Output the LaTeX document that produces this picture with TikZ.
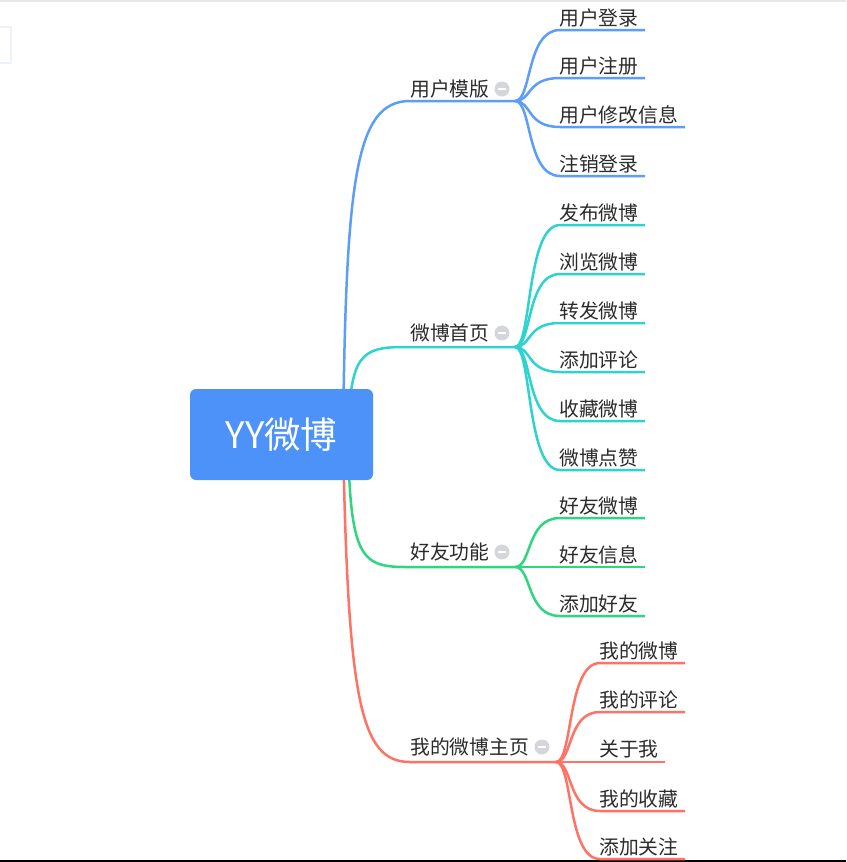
\documentclass[tikz,border=0pt]{standalone}
\usepackage{fontspec}
\setmainfont{Noto Sans CJK SC}
\definecolor{rootblue}{HTML}{4D92F8}
\definecolor{cblue}{HTML}{5B9DF9}
\definecolor{ccyan}{HTML}{2DD3CF}
\definecolor{cgreen}{HTML}{2ED67E}
\definecolor{cred}{HTML}{FF7366}
\definecolor{txt}{HTML}{2B2B2B}
\definecolor{foldgrey}{HTML}{D5D6DB}
\definecolor{topgrey}{HTML}{E8E8E8}
\definecolor{shadowblue}{HTML}{EEF1FB}
\begin{document}
\begin{tikzpicture}[x=1pt,y=-1pt,
  lbl/.style={font=\fontsize{19.8}{20}\selectfont, text=txt, inner sep=0pt, anchor=west},
  edge/.style={line width=2.5pt},
  fold/.style={circle, fill=foldgrey, minimum size=15pt, inner sep=0pt,
    path picture={\fill[white] ([xshift=-4pt,yshift=-1.2pt]path picture bounding box.center) rectangle ([xshift=4pt,yshift=1.2pt]path picture bounding box.center);}},
  rootbox/.style={rectangle, rounded corners=6pt, fill=rootblue, text=white,
    minimum width=183pt, minimum height=91pt, inner sep=0pt,
    font=\fontsize{36.5}{37}\selectfont}]
\useasboundingbox (0,0) rectangle (846,862);
\fill[white] (0,0) rectangle (846,862);
\draw[topgrey, line width=1.5pt] (0,1) -- (846,1);
\draw[black, line width=1.5pt] (0,861) -- (846,861);
% faint side panel
\fill[shadowblue] (0,26) rectangle (12,64);
\fill[white] (0,28) rectangle (10,62);

% ---- branch 1 : 用户模版
\coordinate (oB) at (343,437);
\coordinate (pB) at (410,101);
\coordinate (jB) at (515,101);
\draw[edge, cblue] (oB) .. controls (346,180) and (355,101) .. (pB) -- (jB);
\foreach \i/\y/\xe/\t in {1/30/645/用户登录, 2/78/645/用户注册, 3/127/685/用户修改信息, 4/176/645/注销登录} {
  \coordinate (b\i s) at (560,\y);
  \coordinate (b\i e) at (\xe,\y);
  \draw[edge, cblue] (jB) .. controls (532,101) and (526,\y) .. (b\i s) -- (b\i e);
  \node[lbl] (b\i) at (559,\y-12.5) {\t};
}
\node[lbl] (m1) at (410,88.5) {用户模版};
\node[fold] (f1) at (502,89) {};

% ---- branch 2 : 微博首页
\coordinate (oC) at (348,437);
\coordinate (pC) at (405,347);
\coordinate (jC) at (515,347);
\draw[edge, ccyan] (oC) .. controls (350,355) and (360,347) .. (pC) -- (jC);
\foreach \i/\y/\t in {1/225/发布微博, 2/274/浏览微博, 3/323/转发微博, 4/372/添加评论, 5/421/收藏微博, 6/470/微博点赞} {
  \coordinate (c\i s) at (560,\y);
  \coordinate (c\i e) at (645,\y);
  \draw[edge, ccyan] (jC) .. controls (532,347) and (526,\y) .. (c\i s) -- (c\i e);
  \node[lbl] (c\i) at (559,\y-12.5) {\t};
}
\node[lbl] (m2) at (410,332.5) {微博首页};
\node[fold] (f2) at (502,333) {};

% ---- branch 3 : 好友功能
\coordinate (oG) at (348,437);
\coordinate (pG) at (405,567);
\coordinate (jG) at (515,567);
\draw[edge, cgreen] (oG) .. controls (350,555) and (360,567) .. (pG) -- (jG);
\foreach \i/\y/\t in {1/518/好友微博, 2/567/好友信息, 3/616/添加好友} {
  \coordinate (g\i s) at (560,\y);
  \coordinate (g\i e) at (645,\y);
  \draw[edge, cgreen] (jG) .. controls (532,567) and (526,\y) .. (g\i s) -- (g\i e);
  \node[lbl] (g\i) at (559,\y-12.5) {\t};
}
\node[lbl] (m3) at (410,552) {好友功能};
\node[fold] (f3) at (502,552) {};

% ---- branch 4 : 我的微博主页
\coordinate (oR) at (343,437);
\coordinate (pR) at (410,762);
\coordinate (jR) at (556,762);
\draw[edge, cred] (oR) .. controls (348,700) and (360,762) .. (pR) -- (jR);
\foreach \i/\y/\xe/\t in {1/663/685/我的微博, 2/712/685/我的评论, 3/762/665/关于我, 4/811/685/我的收藏, 5/859/685/添加关注} {
  \coordinate (r\i s) at (600,\y);
  \coordinate (r\i e) at (\xe,\y);
  \draw[edge, cred] (jR) .. controls (573,762) and (567,\y) .. (r\i s) -- (r\i e);
  \node[lbl] (r\i) at (599,\y-12.5) {\t};
}
\node[lbl] (m4) at (410,747) {我的微博主页};
\node[fold] (f4) at (542,747) {};

% ---- root
\node[rootbox] (root) at (281.5,434.5) {YY微博};
\end{tikzpicture}
\end{document}
